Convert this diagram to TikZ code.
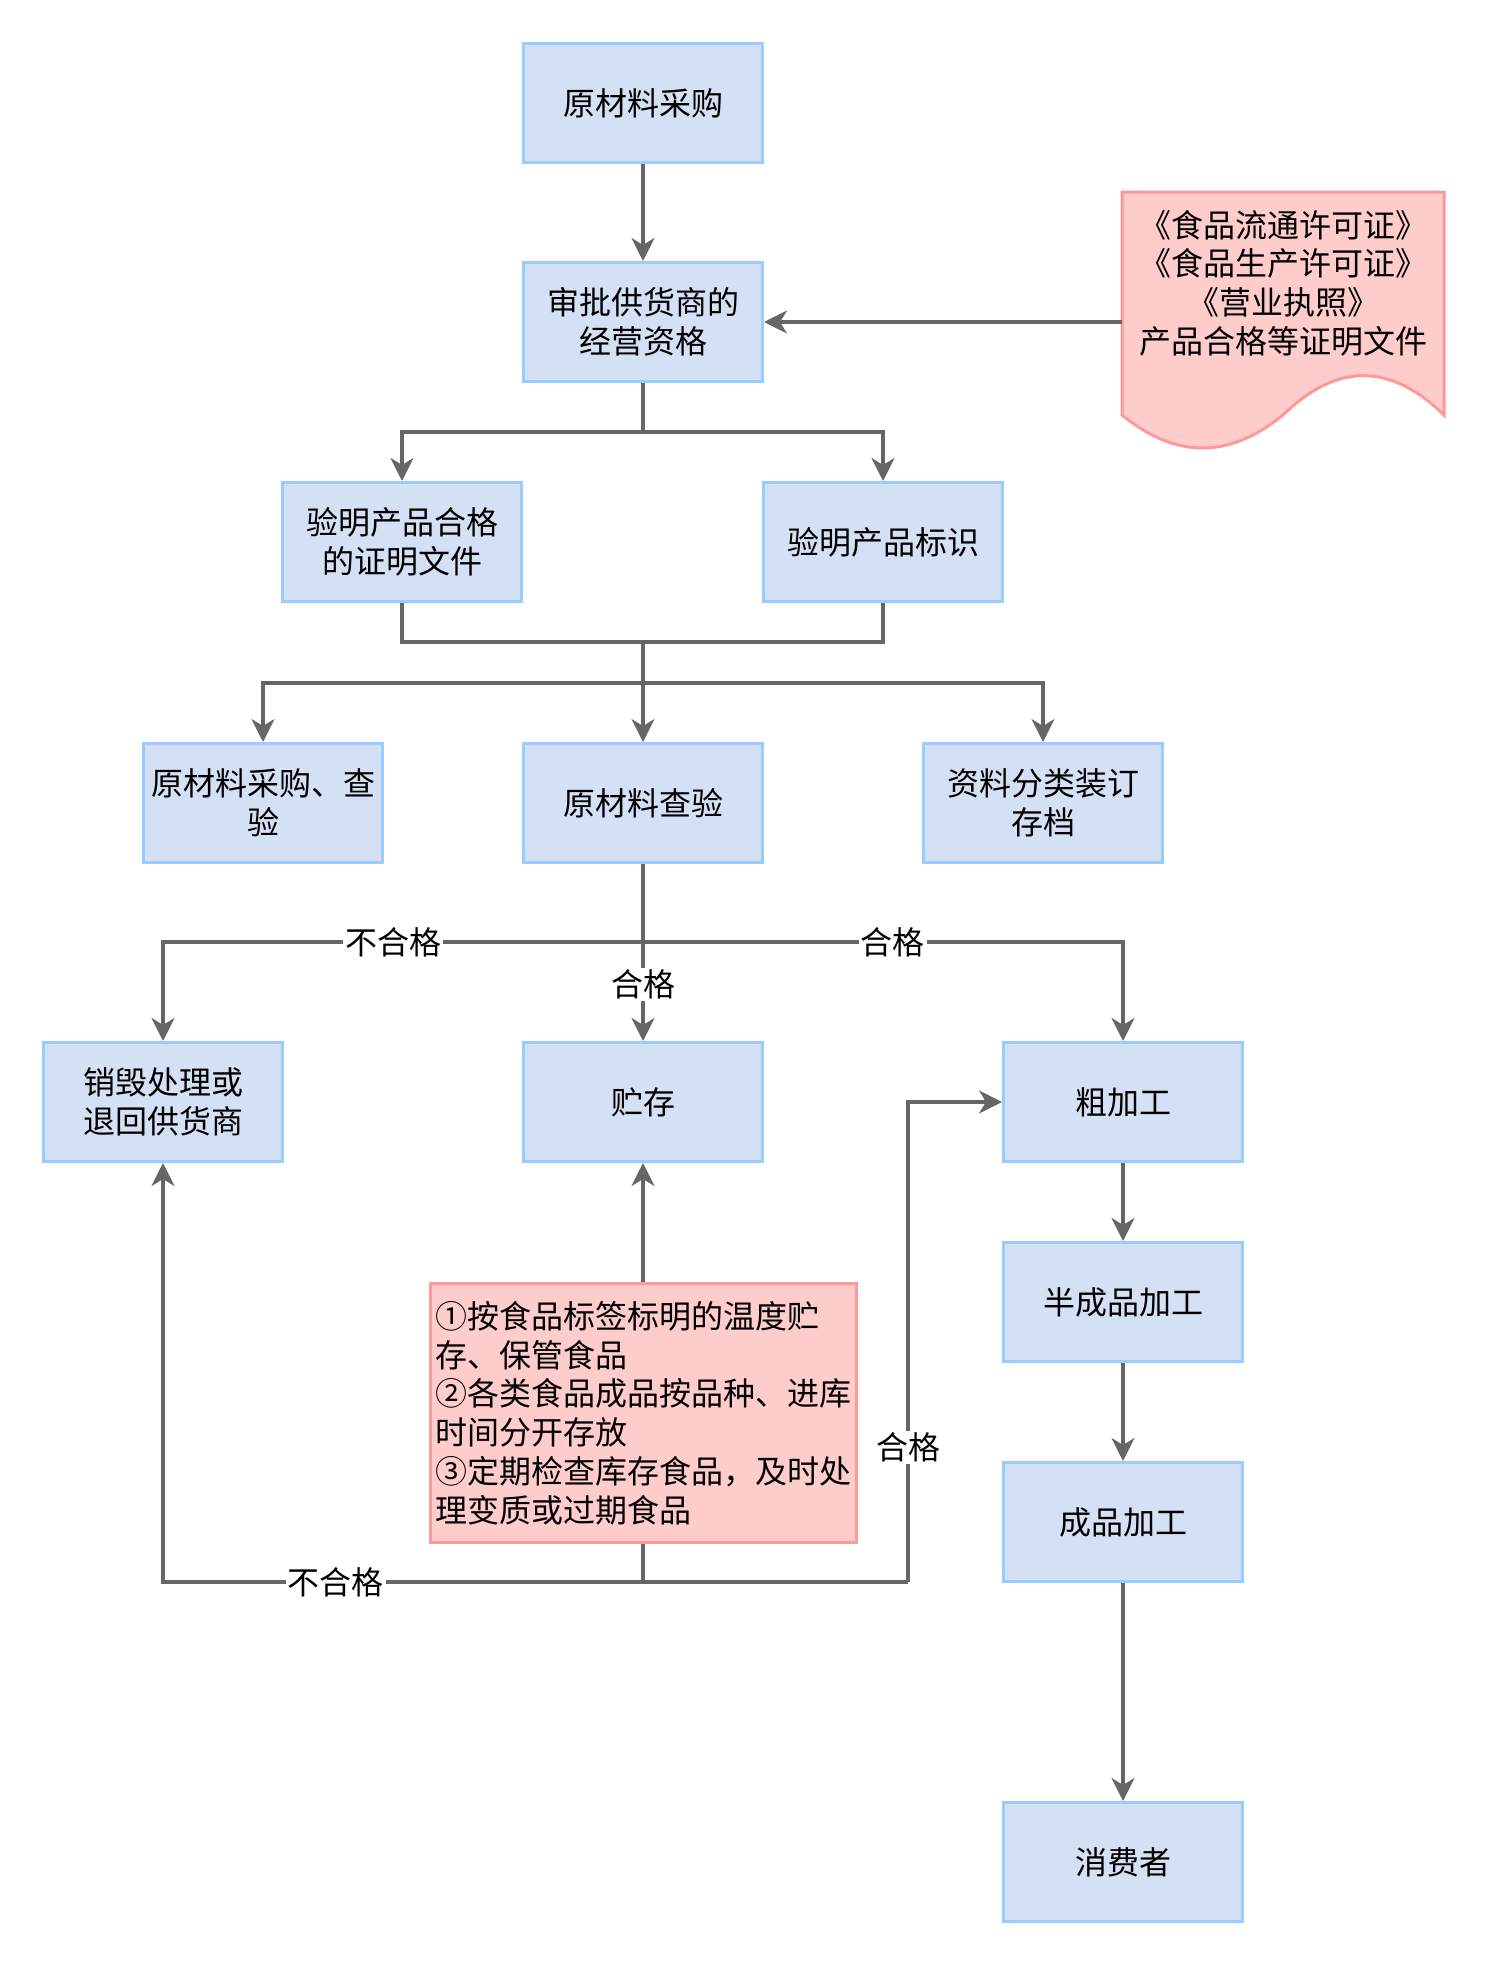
\documentclass[tikz,border=0pt]{standalone}
\usepackage{fontspec}
\setmainfont{Noto Sans CJK SC}
\usetikzlibrary{arrows.meta,calc}

\definecolor{boxfill}{HTML}{D4E1F5}
\definecolor{boxline}{HTML}{99CCFF}
\definecolor{notefill}{HTML}{FFCCCC}
\definecolor{noteline}{HTML}{FF9999}
\definecolor{linegray}{HTML}{666666}

\tikzset{
  box/.style={draw=boxline, fill=boxfill, line width=1.5pt, minimum width=119.5pt, minimum height=59.5pt, inner sep=2pt, align=center, font=\fontsize{16}{19.5}\selectfont},
  note/.style={draw=noteline, fill=notefill, line width=1.5pt, minimum width=213pt, minimum height=129.5pt, text width=208pt, inner sep=2.5pt, align=left, font=\fontsize{16}{19.4}\selectfont},
  lab/.style={fill=white, inner sep=1pt, font=\fontsize{16}{19}\selectfont},
  conn/.style={draw=linegray, line width=1.6pt}
}

\begin{document}
\begin{tikzpicture}[x=0.5pt, y=-0.5pt, >={Stealth[length=11.5pt,width=11.5pt,inset=3.5pt]}]
  \useasboundingbox (0,0) rectangle (1484,1964);
  % Nodes
  \node[box] (buy) at (643,103) {原材料采购};
  \node[box] (approve) at (643,322) {审批供货商的\\经营资格};
  \node[box] (cert) at (402,542) {验明产品合格\\的证明文件};
  \node[box] (mark) at (883,542) {验明产品标识};
  \node[box] (recheck) at (263,803) {原材料采购、查\\验};
  \node[box] (inspect) at (643,803) {原材料查验};
  \node[box] (archive) at (1043,803) {资料分类装订\\存档};
  \node[box] (destroy) at (163,1102) {销毁处理或\\退回供货商};
  \node[box] (store) at (643,1102) {贮存};
  \node[box] (rough) at (1123,1102) {粗加工};
  \node[box] (semi) at (1123,1302) {半成品加工};
  \node[box] (finish) at (1123,1522) {成品加工};
  \node[box] (consumer) at (1123,1862) {消费者};
  \node[note] (rules) at (643,1413) {①按食品标签标明的温度贮\\存、保管食品\\②各类食品成品按品种、进库\\时间分开存放\\③定期检查库存食品，及时处\\理变质或过期食品};
  % document shape
  \path[draw=noteline, fill=notefill, line width=1.5pt] (1122,192) -- (1444,192) -- (1444,415)
    .. controls (1390,362.5) and (1337,362.5) .. (1283,415)
    .. controls (1229,459) and (1176,459) .. (1122,415) -- cycle;
  \node[align=center, font=\fontsize{16}{19.3}\selectfont] (doc) at (1283,283) {《食品流通许可证》\\《食品生产许可证》\\《营业执照》\\产品合格等证明文件};
  \coordinate (docin) at (1122,322);
  % Junctions
  \coordinate (split1) at (643,432);
  \coordinate (merge1) at (643,642);
  \coordinate (split2) at (643,683);
  \coordinate (split3) at (643,942);
  \coordinate (back) at (643,1582);
  \coordinate (turn) at (908,1582);
  % Edges
  \draw[conn,->] (buy) -- (approve);
  \draw[conn,->] (docin) -- (approve);
  \draw[conn] (approve) -- (split1);
  \draw[conn,->] (split1) -| (cert);
  \draw[conn,->] (split1) -| (mark);
  \draw[conn] (cert) |- (merge1);
  \draw[conn] (mark) |- (merge1);
  \draw[conn,->] (merge1) -- (inspect);
  \draw[conn,->] (split2) -| (recheck);
  \draw[conn,->] (split2) -| (archive);
  \draw[conn,->] (split3) -| node[lab, pos=0.26]{不合格} (destroy);
  \draw[conn,->] (split3) -| node[lab, pos=0.26]{合格} (rough);
  \draw[conn,->] (inspect) -- node[lab, pos=0.68]{合格} (store);
  \draw[conn,->] (rules) -- (store);
  \draw[conn] (rules) -- (back);
  \draw[conn,->] (back) -| node[lab, pos=0.32]{不合格} (destroy);
  \draw[conn] (back) -- (turn);
  \draw[conn,->] (turn) |- node[lab, pos=0.14]{合格} (rough);
  \draw[conn,->] (rough) -- (semi);
  \draw[conn,->] (semi) -- (finish);
  \draw[conn,->] (finish) -- (consumer);
\end{tikzpicture}
\end{document}
